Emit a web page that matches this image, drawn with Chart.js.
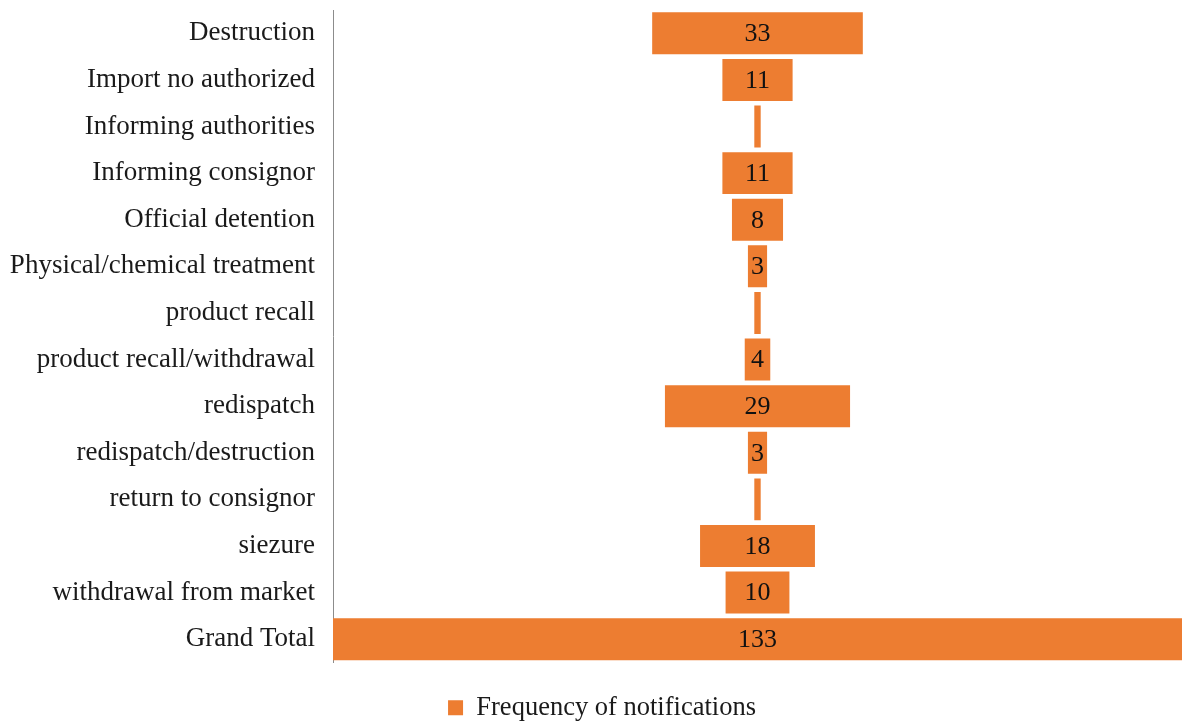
<!DOCTYPE html>
<html>
<head>
<meta charset="utf-8">
<script src="https://cdn.jsdelivr.net/npm/chart.js@4"></script>
<style>
  html, body { margin: 0; padding: 0; background: #fff; }
  #wrap { width: 1182px; height: 721px; }
</style>
</head>
<body>
<div id="wrap"><canvas id="chart"></canvas></div>
<script>
// Categorías (eje y)
const categories = [
    'Destruction', 'Import no authorized', 'Informing authorities', 'Informing consignor',
    'Official detention', 'Physical/chemical treatment', 'product recall',
    'product recall/withdrawal', 'redispatch', 'redispatch/destruction',
    'return to consignor', 'siezure', 'withdrawal from market', 'Grand Total'
];
// Frecuencia de notificaciones
const frequency = [33, 11, 1, 11, 8, 3, 1, 4, 29, 3, 1, 18, 10, 133];

const barColor = '#ED7D31';
const serif = "'Liberation Serif', 'Times New Roman', serif";

// Barras centradas (embudo): cada barra va de -v/2 a v/2
const centered = frequency.map(v => [-v / 2, v / 2]);
const half = Math.max(...frequency) / 2;

// Plugin para escribir el valor dentro de cada barra
const valueLabels = {
    id: 'valueLabels',
    afterDatasetsDraw(chart) {
        const ctx = chart.ctx;
        const meta = chart.getDatasetMeta(0);
        ctx.save();
        ctx.font = '26px ' + serif;
        ctx.fillStyle = '#111';
        ctx.textAlign = 'center';
        ctx.textBaseline = 'middle';
        meta.data.forEach((bar, i) => {
            if (frequency[i] < 2) return; // barras muy delgadas sin etiqueta
            const c = bar.getCenterPoint();
            ctx.fillText(String(frequency[i]), c.x, c.y + 1);
        });
        ctx.restore();
    }
};

// Ajuste de la leyenda: más compacta y un poco a la derecha
const legendTweak = {
    id: 'legendTweak',
    afterInit(chart) {
        const lg = chart.legend;
        const fit = lg.fit.bind(lg);
        lg.fit = function () {
            fit();
            this.height -= 10;
        };
    },
    afterLayout(chart) {
        chart.legend.left += 11;
        chart.legend.right += 11;
    }
};

new Chart(document.getElementById('chart'), {
    type: 'bar',
    data: {
        labels: categories,
        datasets: [{
            label: 'Frequency of notifications',
            data: centered,
            backgroundColor: barColor,
            borderWidth: 0,
            barPercentage: 0.9,
            categoryPercentage: 1.0
        }]
    },
    options: {
        indexAxis: 'y',
        responsive: true,
        maintainAspectRatio: false,
        animation: false,
        layout: { padding: { top: 10, left: 0, right: 0, bottom: 0 } },
        scales: {
            x: {
                min: -half,
                max: half,
                grid: { display: false },
                border: { display: false },
                ticks: { display: false },
                afterFit(scale) { scale.height = 30; }
            },
            y: {
                grid: { display: false, drawTicks: false },
                border: { display: true, color: '#8c8c8c', width: 1 },
                ticks: {
                    color: '#1a1a1a',
                    padding: 18,
                    font: { family: serif, size: 27 }
                },
                afterFit(scale) {
                    scale.width = 333;
                    scale.paddingTop = 0;
                    scale.paddingBottom = 0;
                }
            }
        },
        plugins: {
            legend: {
                position: 'bottom',
                labels: {
                    color: '#1a1a1a',
                    boxWidth: 15,
                    boxHeight: 15,
                    padding: 2,
                    font: { family: serif, size: 26.5 }
                }
            },
            tooltip: { enabled: false }
        }
    },
    plugins: [valueLabels, legendTweak]
});
</script>
</body>
</html>
